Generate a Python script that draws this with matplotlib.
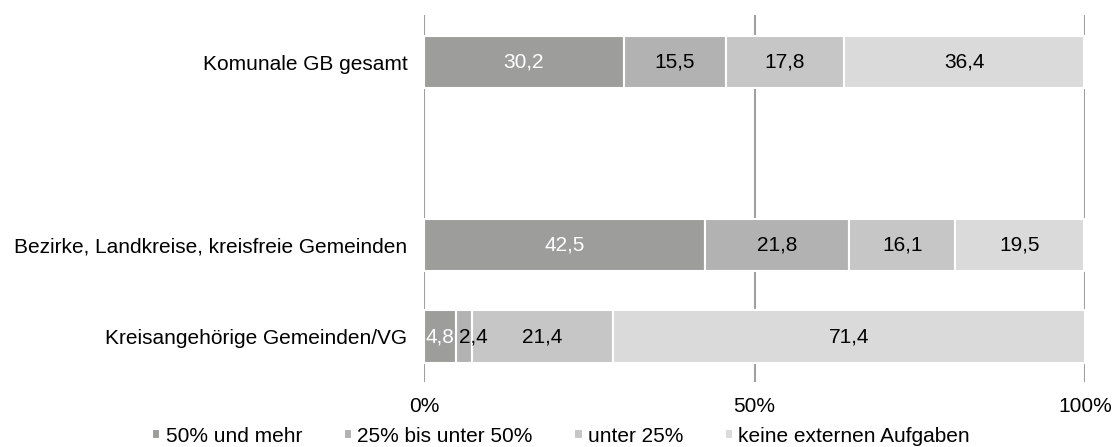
import matplotlib.pyplot as plt
import numpy as np

plt.rcParams['font.family'] = ['Liberation Sans', 'DejaVu Sans']

categories = ['Kreisangehörige Gemeinden/VG',
              'Bezirke, Landkreise, kreisfreie Gemeinden',
              '',
              'Komunale GB gesamt']
series = ['50% und mehr', '25% bis unter 50%', 'unter 25%', 'keine externen Aufgaben']
values = {
    '50% und mehr':            [4.8, 42.5, 0, 30.2],
    '25% bis unter 50%':       [2.4, 21.8, 0, 15.5],
    'unter 25%':               [21.4, 16.1, 0, 17.8],
    'keine externen Aufgaben': [71.4, 19.5, 0, 36.4],
}
colors = ['#9d9d9c', '#b2b2b2', '#c6c6c6', '#dadada']
text_colors = ['white', 'black', 'black', 'black']
fs = 15

fig = plt.figure(figsize=(11.15, 4.47), dpi=100)
ax = fig.add_axes([424 / 1115, 1 - 382 / 447, 661 / 1115, 367 / 447])

y = np.arange(len(categories))
left = np.zeros(len(categories))
for name, col, tc in zip(series, colors, text_colors):
    vals = np.array(values[name])
    keep = vals > 0
    ax.barh(y[keep], vals[keep], left=left[keep], height=0.57, color=col,
            edgecolor='white', linewidth=1.5, label=name, zorder=3)
    for yi, (l, v) in enumerate(zip(left, vals)):
        if v <= 0:
            continue
        txt = f'{v:.1f}'.replace('.', ',')
        if v < 4 and l > 0:
            # too narrow for the number, let it run over to the right
            ax.text(l + 0.5, yi, txt, ha='left', va='center', color=tc,
                    fontsize=fs, zorder=4)
        else:
            ax.text(l + v / 2, yi, txt, ha='center', va='center', color=tc,
                    fontsize=fs, zorder=4)
    left += vals

ax.set_xlim(0, 100)
ax.set_ylim(-0.497, 3.514)
ax.set_xticks([0, 50, 100])
ax.set_xticklabels(['0%', '50%', '100%'], fontsize=fs)
ax.set_yticks(y)
ax.set_yticklabels(categories, fontsize=fs)
ax.tick_params(axis='x', length=0, pad=11)
ax.tick_params(axis='y', length=0, pad=12)
for s in ax.spines.values():
    s.set_visible(False)
ax.xaxis.grid(True, color='#a0a0a0', linewidth=1.5, zorder=0)

fig.legend(loc='center', bbox_to_anchor=(561 / 1115, 1 - 436 / 447), ncol=4,
           frameon=False, fontsize=fs, handlelength=0.4, handleheight=0.4,
           handletextpad=0.25, columnspacing=2.0, borderpad=0)

fig.savefig('out.png', dpi=100)
